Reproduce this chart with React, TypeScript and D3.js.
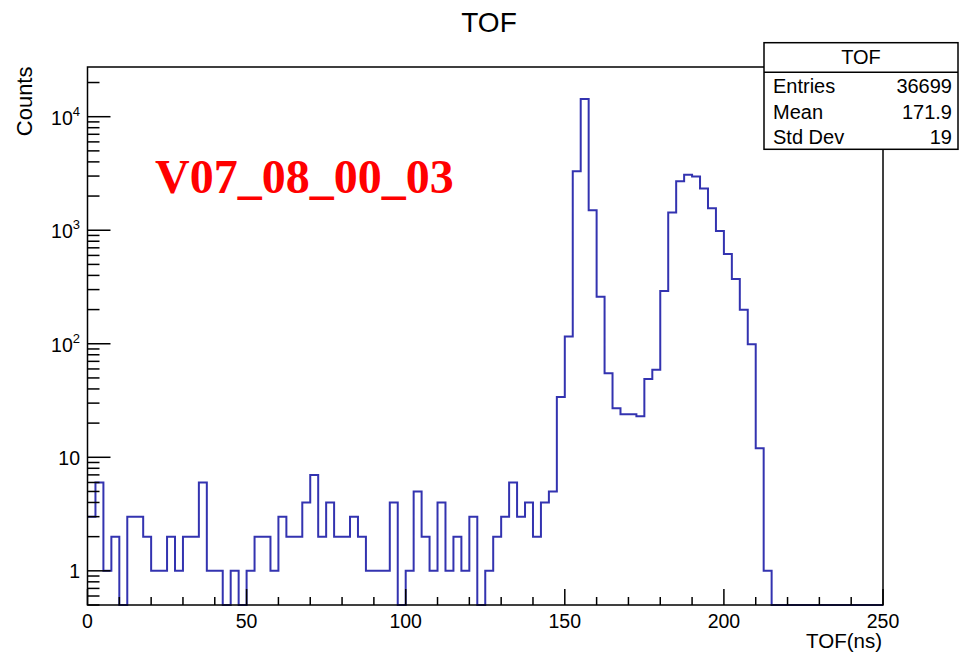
import React from "react";
import * as d3 from "d3";

const binWidth = 2.5;
const counts: number[] = [
  3, 6, 1, 2, 0, 3, 3, 2, 1, 1,
  2, 1, 2, 2, 6, 1, 1, 0, 1, 0,
  1, 2, 2, 1, 3, 2, 2, 4, 7, 2,
  4, 2, 2, 3, 2, 1, 1, 1, 4, 0,
  1, 5, 2, 1, 4, 1, 2, 1, 3, 0,
  1, 2, 3, 6, 3, 4, 2, 4, 5, 34,
  116, 3300, 14300, 1500, 260, 55, 27, 24, 24, 23,
  49, 59, 291, 1430, 2700, 3080, 2980, 2330, 1560, 985,
  617, 372, 199, 99, 12, 1, 0, 0, 0, 0,
  0, 0, 0, 0, 0, 0, 0, 0, 0, 0,
];
const xTicks = [0, 50, 100, 150, 200, 250];
const yMajor = [1, 10, 100, 1000, 10000];
const yLabels = [
  { base: "1", exp: "" },
  { base: "10", exp: "" },
  { base: "10", exp: "2" },
  { base: "10", exp: "3" },
  { base: "10", exp: "4" },
];
const statsRows = [
  { label: "Entries", value: "36699" },
  { label: "Mean", value: "171.9" },
  { label: "Std Dev", value: "19" },
];
const title = "TOF";
const tag = "V07_08_00_03";

const X0 = 87.5, X1 = 883, Y0 = 605, Y1 = 67;
const yMin = 0.5, yMax = 27400;

export default function App() {
  const x = d3.scaleLinear().domain([0, 250]).range([X0, X1]);
  const y = d3.scaleLog().domain([yMin, yMax]).range([Y0, Y1]);
  const yv = (v: number) => (v <= yMin ? Y0 : Math.max(Y1, y(v)));

  // step path
  const pts: [number, number][] = [];
  counts.forEach((c, i) => {
    pts.push([x(i * binWidth), yv(c)]);
    pts.push([x((i + 1) * binWidth), yv(c)]);
  });
  const path = d3.line()(pts) || "";

  const xMinor: number[] = [];
  for (let v = 0; v <= 250; v += 10) if (v % 50 !== 0) xMinor.push(v);
  const yMinor: number[] = [];
  for (let e = -1; e <= 4; e++)
    for (let k = 2; k <= 9; k++) {
      const v = k * Math.pow(10, e);
      if (v >= yMin && v <= yMax) yMinor.push(v);
    }

  const font = "'Liberation Sans', Arial, Helvetica, sans-serif";
  const bx0 = 764, bx1 = 958, by0 = 42.7, bsep = 72.3, by1 = 149.3;

  return (
    <svg
      width={959}
      height={654}
      style={{ position: "absolute", left: 0, top: 0, background: "#fff" }}
      fontFamily={font}
    >
      <rect x={0} y={0} width={959} height={654} fill="#fff" />
      <text x={489} y={31.7} fontSize={28} textAnchor="middle" fill="#000">
        {title}
      </text>
      <path d={path} fill="none" stroke="#3333b0" strokeWidth={2} />
      {/* frame */}
      <rect x={X0} y={Y1} width={X1 - X0} height={Y0 - Y1} fill="none" stroke="#000" strokeWidth={1.5} />
      {/* x ticks */}
      {xTicks.map((t) => (
        <g key={"xt" + t}>
          <line x1={x(t)} x2={x(t)} y1={Y0} y2={Y0 - 16} stroke="#000" strokeWidth={1.5} />
          <text x={x(t)} y={627.5} fontSize={19.5} textAnchor="middle" fill="#000">
            {t}
          </text>
        </g>
      ))}
      {xMinor.map((t) => (
        <line key={"xm" + t} x1={x(t)} x2={x(t)} y1={Y0} y2={Y0 - 8} stroke="#000" strokeWidth={1.5} />
      ))}
      {/* y ticks */}
      {yMajor.map((t, i) => (
        <g key={"yt" + t}>
          <line x1={X0} x2={X0 + 23} y1={y(t)} y2={y(t)} stroke="#000" strokeWidth={1.5} />
          {yLabels[i].exp ? (
            <text x={80} y={y(t) + 8} fontSize={19.5} textAnchor="end" fill="#000">
              {yLabels[i].base}
              <tspan fontSize={13} dy={-9}>{yLabels[i].exp}</tspan>
            </text>
          ) : (
            <text x={80} y={y(t) + 7.5} fontSize={19.5} textAnchor="end" fill="#000">
              {yLabels[i].base}
            </text>
          )}
        </g>
      ))}
      {yMinor.map((t) => (
        <line key={"ym" + t} x1={X0} x2={X0 + 12} y1={y(t)} y2={y(t)} stroke="#000" strokeWidth={1.5} />
      ))}
      {/* axis titles */}
      <text x={882} y={648.3} fontSize={20.5} textAnchor="end" fill="#000">
        TOF(ns)
      </text>
      <text
        transform="translate(31.5,66.5) rotate(-90)"
        fontSize={22}
        textAnchor="end"
        fill="#000"
      >
        Counts
      </text>
      {/* stats box */}
      <rect x={bx0} y={by0} width={bx1 - bx0} height={by1 - by0} fill="#fff" stroke="#000" strokeWidth={1.5} />
      <line x1={bx0} x2={bx1} y1={bsep} y2={bsep} stroke="#000" strokeWidth={1.5} />
      <text x={(bx0 + bx1) / 2} y={64} fontSize={20} textAnchor="middle" fill="#000">
        {title}
      </text>
      {statsRows.map((r, i) => (
        <g key={r.label}>
          <text x={773} y={93 + i * 25.5} fontSize={20} fill="#000">
            {r.label}
          </text>
          <text x={952} y={93 + i * 25.5} fontSize={20} textAnchor="end" fill="#000">
            {r.value}
          </text>
        </g>
      ))}
      {/* tag */}
      <text
        x={155}
        y={193.3}
        fontSize={48}
        fontWeight="bold"
        fontFamily="'Liberation Serif', 'Times New Roman', serif"
        fill="#ff0000"
      >
        {tag}
      </text>
    </svg>
  );
}
